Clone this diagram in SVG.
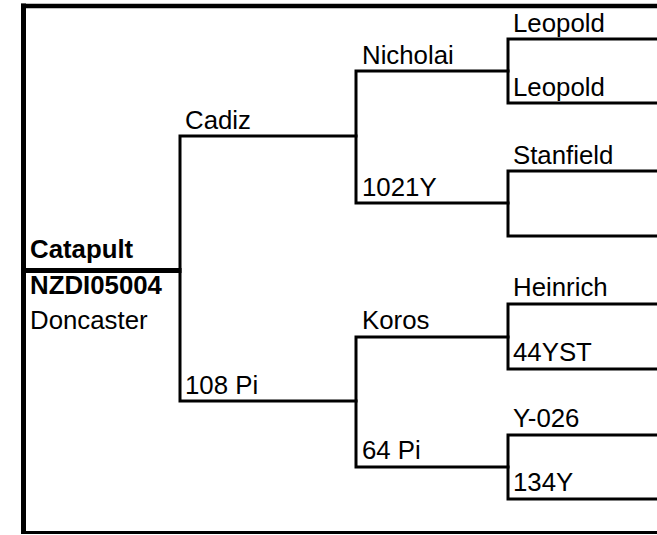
<svg xmlns="http://www.w3.org/2000/svg" width="657" height="535" viewBox="0 0 657 535">
<style>
  text { font-family: "Liberation Sans", Arial, sans-serif; font-size: 25.8px; fill: #000; }
  .b { font-weight: bold; }
  .ln { stroke: #000; stroke-width: 3; fill: none; stroke-linecap: square; }
  .thick { stroke: #000; stroke-width: 5; fill: none; }
</style>
<rect x="0" y="0" width="657" height="535" fill="#fff"/>
<g id="frame">
  <line class="thick" x1="23.5" y1="3.5" x2="23.5" y2="534"/>
  <line class="thick" x1="21" y1="6" x2="657" y2="6" style="stroke-width:4.5"/>
  <line class="ln" x1="21" y1="532.5" x2="657" y2="532.5" style="stroke-linecap:butt"/>
</g>
<g id="connectors">
  <line class="thick" x1="26" y1="270.5" x2="181.5" y2="270.5"/>
  <path class="ln" d="M356 136 H180 V401 H356"/>
  <path class="ln" d="M508 71 H356 V203 H508"/>
  <path class="ln" d="M508 337 H356 V467 H508"/>
  <path class="ln" d="M657 39 H508 V103 H657"/>
  <path class="ln" d="M657 171 H508 V236 H657"/>
  <path class="ln" d="M657 304 H508 V369 H657"/>
  <path class="ln" d="M657 435 H508 V499 H657"/>
</g>
<g id="node-catapult">
  <text class="b" x="30" y="258">Catapult</text>
  <text class="b" x="30" y="294">NZDI05004</text>
  <text x="30" y="329">Doncaster</text>
</g>
<g id="node-cadiz"><text x="185" y="129">Cadiz</text></g>
<g id="node-108pi"><text x="185" y="394">108 Pi</text></g>
<g id="node-nicholai"><text x="362" y="64">Nicholai</text></g>
<g id="node-1021y"><text x="362" y="196">1021Y</text></g>
<g id="node-koros"><text x="362" y="329">Koros</text></g>
<g id="node-64pi"><text x="362" y="459">64 Pi</text></g>
<g id="node-leopold-1"><text x="513" y="32">Leopold</text></g>
<g id="node-leopold-2"><text x="513" y="96">Leopold</text></g>
<g id="node-stanfield"><text x="513" y="164">Stanfield</text></g>
<g id="node-heinrich"><text x="513" y="296">Heinrich</text></g>
<g id="node-44yst"><text x="513" y="361">44YST</text></g>
<g id="node-y026"><text x="513" y="427">Y-026</text></g>
<g id="node-134y"><text x="513" y="491">134Y</text></g>
</svg>
